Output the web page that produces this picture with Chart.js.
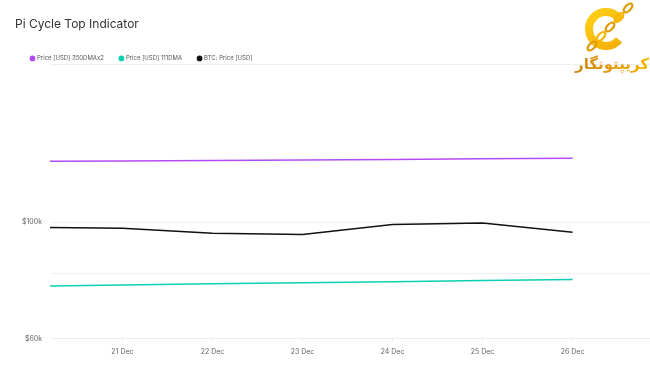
<!DOCTYPE html>
<html>
<head>
<meta charset="utf-8">
<script src="https://cdn.jsdelivr.net/npm/chart.js@4"></script>
<style>
  html, body { margin: 0; padding: 0; background: #fff; }
  #wrap { width: 650px; height: 365px; position: relative; }
</style>
</head>
<body>
<div id="wrap"><canvas id="c" width="650" height="365"></canvas></div>
<script>
// ---- data ----
const days = [20, 21, 22, 23, 24, 25, 26];            // December
const tickDays = [21, 22, 23, 24, 25, 26];
const dma350x2 = [130700, 130900, 131200, 131500, 131800, 132100, 132500];
const dma111 = [75500, 75900, 76300, 76700, 77000, 77400, 77800];
const btcPrice = [97800, 97400, 95300, 94800, 99000, 99700, 95700];
const yTickValues = [60000, 80000, 100000, 200000];
const yLabelled = [60000, 100000];
const seriesNames = ['Price [USD] 350DMAx2', 'Price [USD] 111DMA', 'BTC: Price [USD]'];
const logoText = 'کریپتونگار';

const toPts = arr => days.map((d, i) => ({ x: d, y: arr[i] }));

const logoPlugin = {
  id: 'logo',
  afterDraw(chart) {
    const ctx = chart.ctx;
    ctx.save();
    // C ring
    const cx = 606, cy = 29, r = 17;
    const g = ctx.createLinearGradient(588, 8, 626, 50);
    g.addColorStop(0, '#FFD21A');
    g.addColorStop(1, '#F2A900');
    ctx.strokeStyle = g;
    ctx.lineWidth = 8;
    ctx.beginPath();
    ctx.arc(cx, cy, r, 0.22 * Math.PI, 1.82 * Math.PI);
    ctx.stroke();
    // chain links (diagonal, bottom-left to top-right)
    ctx.lineWidth = 2.2;
    for (let k = 0; k < 5; k++) {
      const x = 592 + k * 9, y = 46 - k * 9.5;
      ctx.strokeStyle = k % 2 ? '#F7B500' : '#E39A00';
      ctx.save();
      ctx.translate(x, y);
      ctx.rotate(-Math.PI / 4);
      ctx.beginPath();
      ctx.ellipse(0, 0, 5.5, 2.8, 0, 0, 2 * Math.PI);
      ctx.stroke();
      ctx.restore();
    }
    // Persian text
    const tg = ctx.createLinearGradient(578, 0, 646, 0);
    tg.addColorStop(0, '#C98A0C');
    tg.addColorStop(0.5, '#E69A10');
    tg.addColorStop(1, '#F3B400');
    ctx.fillStyle = tg;
    ctx.font = 'bold 15px "DejaVu Sans"';
    ctx.textAlign = 'center';
    ctx.textBaseline = 'middle';
    ctx.direction = 'rtl';
    ctx.fillText(logoText, 612, 65);
    ctx.restore();
  }
};

const legendFix = {
  id: 'legendFix',
  beforeInit(chart) {
    const lg = chart.legend;
    if (lg) {
      const orig = lg.fit;
      lg.fit = function () { orig.call(this); this.height = 25; };
    }
  }
};

new Chart(document.getElementById('c'), {
  type: 'line',
  data: {
    datasets: [
      { label: seriesNames[0], data: toPts(dma350x2), borderColor: '#B24BF3', backgroundColor: '#B24BF3', borderWidth: 1.5, pointRadius: 0, tension: 0 },
      { label: seriesNames[1], data: toPts(dma111), borderColor: '#0CCFB4', backgroundColor: '#0CCFB4', borderWidth: 1.5, pointRadius: 0, tension: 0 },
      { label: seriesNames[2], data: toPts(btcPrice), borderColor: '#111111', backgroundColor: '#111111', borderWidth: 1.5, pointRadius: 0, tension: 0 }
    ]
  },
  options: {
    responsive: false,
    animation: false,
    devicePixelRatio: 1,
    layout: { padding: { left: 15, right: 0, top: 0, bottom: 4 } },
    plugins: {
      title: {
        display: true, text: 'Pi Cycle Top Indicator', align: 'start',
        color: '#333', font: { family: 'Inter', size: 12, weight: '400' },
        padding: { top: 17, bottom: 8 }
      },
      legend: {
        display: true, align: 'start',
        labels: {
          usePointStyle: true, pointStyle: 'circle', boxWidth: 3, boxHeight: 3,
          padding: 16, color: '#555', font: { family: 'Inter', size: 6 }
        }
      },
      tooltip: { enabled: false }
    },
    scales: {
      x: {
        type: 'linear', min: 20.195, max: 26.86,
        afterBuildTicks: s => { s.ticks = tickDays.map(v => ({ value: v })); },
        ticks: { callback: v => v + ' Dec', color: '#666', font: { family: 'Inter', size: 7 }, padding: 5, maxRotation: 0 },
        grid: { drawOnChartArea: false, drawTicks: true, tickLength: 4, color: '#eeeeee' },
        border: { display: true, color: '#eeeeee' }
      },
      y: {
        type: 'logarithmic', min: 60000, max: 200000,
        afterBuildTicks: s => { s.ticks = yTickValues.map(v => ({ value: v })); },
        afterFit: s => { s.width = 35; },
        ticks: { callback: v => yLabelled.includes(v) ? '$' + (v / 1000) + 'k' : '', color: '#666', font: { family: 'Inter', size: 7 }, padding: 8 },
        grid: { drawTicks: false, color: '#efefef' },
        border: { display: false }
      }
    }
  },
  plugins: [legendFix, logoPlugin]
});
</script>
</body>
</html>
